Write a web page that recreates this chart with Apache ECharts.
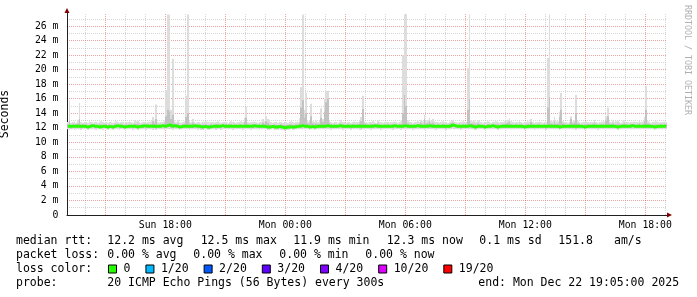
<!DOCTYPE html>
<html><head><meta charset="utf-8">
<script src="https://cdn.jsdelivr.net/npm/echarts@6/dist/echarts.min.js"></script>
<style>html,body{margin:0;padding:0;background:#fff}#c{width:697px;height:297px}</style>
</head><body><div id="c"></div>
<script>
// ---- time frame (hours since Sun 00:00) ----
const START_H = 13 + 5 / 60;   // Sun 13:05
const END_H = 43 + 5 / 60;     // Mon 19:05
const STEP_H = 5 / 60;         // 300 s step
const Y_MAX = 27.8;            // ms

// ---- tick labels ----
const xLabelHours = [18, 24, 30, 36, 42];
const xLabels = ['Sun 18:00', 'Mon 00:00', 'Mon 06:00', 'Mon 12:00', 'Mon 18:00'];

// ---- series values (ms), one value per 5-minute step, 360 steps ----
const medianMs = [
12.2,12.2,12.1,12.2,12.2,12.3,12.2,12.2,12.1,12.2,12.2,12.2,12.1,12.2,12.2,12.3,12.2,12.2,12.2,12.1,12.2,12.2,12.2,12.2,
12.1,12.2,12.2,12.1,12.2,12.2,12.3,12.2,12.2,12.2,12.1,12.2,12.2,12.2,12.3,12.2,12.2,12.2,12.1,12.2,12.2,12.2,12.3,12.2,
12.2,12.2,12.3,12.2,12.2,12.1,12.2,12.2,12.2,12.3,12.2,12.2,12.3,12.4,12.2,12.2,12.3,12.2,12.2,12.1,12.2,12.2,12.2,12.3,
12.2,12.2,12.2,12.2,12.3,12.2,12.2,12.2,12.1,12.1,12.2,12.2,12.1,12.1,12.2,12.2,12.2,12.1,12.2,12.2,12.2,12.3,12.2,12.2,
12.2,12.2,12.3,12.2,12.2,12.2,12.2,12.2,12.3,12.2,12.2,12.2,12.2,12.2,12.2,12.2,12.3,12.2,12.2,12.2,12.2,12.2,12.2,12.2,
12.1,12.1,12.2,12.2,12.1,12.1,12.1,12.2,12.1,12.1,12.0,12.1,12.1,12.1,12.2,12.1,12.1,12.2,12.2,12.2,12.2,12.3,12.2,12.2,
12.2,12.1,12.2,12.2,12.1,12.2,12.2,12.2,12.2,12.2,12.2,12.2,12.3,12.2,12.2,12.2,12.2,12.2,12.2,12.3,12.2,12.2,12.2,12.2,
12.2,12.2,12.1,12.2,12.2,12.2,12.2,12.2,12.1,12.2,12.2,12.2,12.2,12.2,12.2,12.2,12.3,12.2,12.2,12.2,12.2,12.2,12.2,12.2,
12.2,12.2,12.2,12.2,12.3,12.2,12.2,12.2,12.2,12.2,12.3,12.3,12.2,12.2,12.2,12.2,12.2,12.2,12.3,12.2,12.2,12.2,12.2,12.2,
12.2,12.3,12.2,12.2,12.2,12.2,12.2,12.2,12.2,12.2,12.2,12.1,12.2,12.2,12.3,12.4,12.3,12.2,12.2,12.2,12.1,12.2,12.2,12.2,
12.2,12.3,12.2,12.2,12.1,12.1,12.2,12.2,12.2,12.2,12.1,12.2,12.2,12.2,12.2,12.3,12.2,12.2,12.1,12.2,12.2,12.2,12.2,12.2,
12.2,12.2,12.2,12.2,12.2,12.3,12.2,12.2,12.2,12.2,12.1,12.2,12.2,12.2,12.2,12.2,12.2,12.2,12.2,12.2,12.2,12.2,12.2,12.1,
12.2,12.2,12.2,12.2,12.2,12.2,12.2,12.1,12.2,12.2,12.2,12.2,12.2,12.2,12.2,12.2,12.2,12.1,12.2,12.2,12.2,12.2,12.1,12.2,
12.2,12.2,12.2,12.2,12.2,12.2,12.2,12.2,12.2,12.2,12.2,12.2,12.2,12.2,12.2,12.2,12.2,12.2,12.1,12.2,12.2,12.2,12.2,12.2,
12.2,12.2,12.2,12.3,12.2,12.2,12.2,12.2,12.3,12.2,12.2,12.2,12.2,12.2,12.2,12.2,12.1,12.2,12.2,12.2,12.2,12.2,12.2,12.2
];
const minMs = [
11.8,11.7,11.8,11.8,11.7,11.8,11.8,11.8,11.7,11.8,11.8,11.8,11.7,11.8,11.8,11.8,11.8,11.7,11.8,11.8,11.8,11.7,11.8,11.8,
11.7,11.8,11.8,11.7,11.8,11.8,11.8,11.7,11.8,11.8,11.7,11.8,11.8,11.8,11.8,11.7,11.8,11.8,11.7,11.8,11.8,11.8,11.8,11.7,
11.8,11.8,11.8,11.7,11.8,11.7,11.8,11.8,11.8,11.8,11.7,11.8,11.8,11.9,11.8,11.7,11.8,11.8,11.8,11.7,11.8,11.8,11.8,11.8,
11.8,11.7,11.8,11.8,11.8,11.8,11.7,11.8,11.7,11.7,11.8,11.8,11.7,11.7,11.8,11.8,11.8,11.7,11.8,11.8,11.7,11.8,11.8,11.8,
11.8,11.8,11.8,11.7,11.8,11.8,11.8,11.8,11.8,11.7,11.8,11.8,11.8,11.8,11.7,11.8,11.8,11.8,11.8,11.7,11.8,11.8,11.8,11.8,
11.7,11.7,11.8,11.8,11.7,11.7,11.7,11.8,11.7,11.7,11.6,11.7,11.7,11.7,11.8,11.7,11.7,11.8,11.8,11.8,11.8,11.8,11.8,11.8,
11.8,11.7,11.8,11.8,11.7,11.8,11.8,11.8,11.8,11.8,11.8,11.8,11.8,11.8,11.7,11.8,11.8,11.8,11.8,11.8,11.8,11.7,11.8,11.8,
11.8,11.8,11.7,11.8,11.8,11.8,11.8,11.7,11.7,11.8,11.8,11.8,11.8,11.8,11.7,11.8,11.8,11.8,11.8,11.8,11.7,11.8,11.8,11.8,
11.8,11.8,11.8,11.7,11.8,11.8,11.8,11.8,11.7,11.8,11.8,11.8,11.8,11.8,11.8,11.7,11.8,11.8,11.8,11.8,11.8,11.8,11.7,11.8,
11.8,11.8,11.8,11.8,11.8,11.7,11.8,11.8,11.8,11.8,11.8,11.7,11.8,11.8,11.8,11.9,11.8,11.8,11.8,11.8,11.7,11.8,11.8,11.8,
11.8,11.8,11.8,11.8,11.7,11.7,11.8,11.8,11.8,11.8,11.7,11.8,11.8,11.8,11.8,11.8,11.8,11.8,11.7,11.8,11.8,11.8,11.8,11.8,
11.8,11.8,11.8,11.8,11.8,11.8,11.8,11.8,11.8,11.8,11.7,11.8,11.8,11.8,11.8,11.8,11.7,11.8,11.8,11.8,11.8,11.8,11.8,11.7,
11.8,11.8,11.8,11.8,11.8,11.8,11.8,11.7,11.8,11.8,11.8,11.8,11.8,11.8,11.8,11.8,11.8,11.7,11.8,11.8,11.8,11.8,11.7,11.8,
11.8,11.8,11.8,11.8,11.8,11.8,11.7,11.8,11.8,11.8,11.8,11.8,11.8,11.8,11.8,11.8,11.8,11.8,11.7,11.8,11.8,11.8,11.8,11.8,
11.8,11.8,11.8,11.8,11.8,11.8,11.8,11.8,11.8,11.8,11.8,11.8,11.8,11.8,11.8,11.8,11.7,11.8,11.8,11.8,11.8,11.8,11.8,11.8
];
const loMs = [
12.0,12.0,11.9,12.0,12.0,12.1,12.0,12.0,11.9,12.0,12.0,12.0,11.9,12.0,12.0,12.1,12.0,12.0,12.0,11.9,12.0,12.0,12.0,12.0,
11.9,12.0,12.0,11.9,12.0,12.0,12.1,12.0,12.0,12.0,11.9,12.0,12.0,12.0,12.1,12.0,12.0,12.0,11.9,12.0,12.0,12.0,12.1,12.0,
12.0,12.0,12.1,12.0,12.0,11.9,12.0,12.0,12.0,12.1,12.0,12.0,12.1,12.2,12.0,12.0,12.1,12.0,12.0,11.9,12.0,12.0,12.0,12.1,
12.0,12.0,12.0,12.0,12.1,12.0,12.0,12.0,11.9,11.9,12.0,12.0,11.9,11.9,12.0,12.0,12.0,11.9,12.0,12.0,12.0,12.1,12.0,12.0,
12.0,12.0,12.1,12.0,12.0,12.0,12.0,12.0,12.1,12.0,12.0,12.0,12.0,12.0,12.0,12.0,12.1,12.0,12.0,12.0,12.0,12.0,12.0,12.0,
11.9,11.9,12.0,12.0,11.9,11.9,11.9,12.0,11.9,11.9,11.8,11.9,11.9,11.9,12.0,11.9,11.9,12.0,12.0,12.0,12.0,12.1,12.0,12.0,
12.0,11.9,12.0,12.0,11.9,12.0,12.0,12.0,12.0,12.0,12.0,12.0,12.1,12.0,12.0,12.0,12.0,12.0,12.0,12.1,12.0,12.0,12.0,12.0,
12.0,12.0,11.9,12.0,12.0,12.0,12.0,12.0,11.9,12.0,12.0,12.0,12.0,12.0,12.0,12.0,12.1,12.0,12.0,12.0,12.0,12.0,12.0,12.0,
12.0,12.0,12.0,12.0,12.1,12.0,12.0,12.0,12.0,12.0,12.1,12.1,12.0,12.0,12.0,12.0,12.0,12.0,12.1,12.0,12.0,12.0,12.0,12.0,
12.0,12.1,12.0,12.0,12.0,12.0,12.0,12.0,12.0,12.0,12.0,11.9,12.0,12.0,12.1,12.2,12.1,12.0,12.0,12.0,11.9,12.0,12.0,12.0,
12.0,12.1,12.0,12.0,11.9,11.9,12.0,12.0,12.0,12.0,11.9,12.0,12.0,12.0,12.0,12.1,12.0,12.0,11.9,12.0,12.0,12.0,12.0,12.0,
12.0,12.0,12.0,12.0,12.0,12.1,12.0,12.0,12.0,12.0,11.9,12.0,12.0,12.0,12.0,12.0,12.0,12.0,12.0,12.0,12.0,12.0,12.0,11.9,
12.0,12.0,12.0,12.0,12.0,12.0,12.0,11.9,12.0,12.0,12.0,12.0,12.0,12.0,12.0,12.0,12.0,11.9,12.0,12.0,12.0,12.0,11.9,12.0,
12.0,12.0,12.0,12.0,12.0,12.0,12.0,12.0,12.0,12.0,12.0,12.0,12.0,12.0,12.0,12.0,12.0,12.0,11.9,12.0,12.0,12.0,12.0,12.0,
12.0,12.0,12.0,12.1,12.0,12.0,12.0,12.0,12.1,12.0,12.0,12.0,12.0,12.0,12.0,12.0,11.9,12.0,12.0,12.0,12.0,12.0,12.0,12.0
];
const hiMs = [
12.5,13.0,12.4,12.5,12.4,12.5,12.6,13.2,12.4,12.5,12.4,12.5,12.4,12.4,12.5,12.4,12.5,12.4,12.4,12.5,12.5,12.4,12.4,12.5,
12.4,12.5,12.4,12.4,12.5,12.5,12.4,12.4,12.5,12.4,12.4,12.5,12.4,12.5,12.4,12.4,12.6,12.5,12.6,12.4,12.4,12.5,12.4,12.4,
12.5,12.4,12.5,12.9,12.6,13.2,12.4,12.5,12.4,12.4,12.6,13.6,14.5,14.2,13.2,13.8,12.6,12.5,12.6,12.4,12.4,12.5,12.5,13.5,
14.0,12.6,12.5,12.7,12.4,12.4,12.5,12.4,12.4,12.5,12.4,12.5,12.4,12.4,12.5,12.4,12.4,12.5,12.5,12.4,12.4,12.5,12.4,12.5,
12.4,12.5,12.5,12.4,12.5,12.4,12.4,12.5,12.5,12.4,12.8,13.4,12.5,12.4,12.4,12.5,12.5,12.4,12.4,12.5,12.4,12.7,12.5,12.9,
12.7,12.5,12.4,12.4,12.5,12.4,12.4,12.4,12.5,12.4,12.4,12.4,12.4,12.5,12.5,12.4,12.4,12.5,12.4,12.7,14.8,15.8,13.4,14.0,
12.6,12.7,13.6,12.6,12.5,12.6,12.5,12.5,13.4,12.8,14.2,15.5,16.0,12.7,12.5,12.4,12.5,12.4,12.4,12.5,12.6,12.5,12.4,12.4,
12.5,12.4,12.4,12.5,12.5,12.4,12.5,12.6,12.9,14.6,12.6,12.5,12.4,12.4,12.5,12.5,12.4,12.4,12.6,12.5,12.4,12.4,12.5,12.4,
12.5,12.4,12.4,12.5,12.5,12.4,12.4,12.5,12.5,14.0,16.5,15.0,12.6,12.5,12.4,12.4,12.5,12.4,12.5,12.5,12.7,12.5,13.2,12.6,
12.7,12.9,12.6,12.7,12.5,12.4,12.5,12.4,12.4,12.5,12.5,12.4,12.4,12.5,12.6,12.7,12.5,12.4,12.4,12.5,12.4,12.5,12.4,12.5,
14.5,16.0,12.6,12.6,12.6,12.5,12.6,12.5,12.4,12.4,12.5,12.4,12.5,12.4,12.4,12.5,12.4,12.5,12.5,12.4,12.4,12.5,12.5,12.6,
12.7,12.9,12.5,12.4,12.4,12.5,12.4,12.5,12.5,12.4,12.4,12.5,12.5,12.4,12.8,12.5,12.4,12.4,12.5,12.5,12.4,12.4,12.5,12.4,
14.8,16.2,12.6,12.5,12.9,12.5,12.6,13.5,14.5,12.6,12.5,12.4,12.4,12.5,13.2,12.6,12.7,14.0,12.6,12.5,12.4,12.4,12.5,12.5,
12.5,12.4,12.4,12.5,12.7,12.5,12.4,12.4,12.5,12.5,12.4,13.0,13.6,12.6,12.5,12.6,12.4,12.5,12.6,12.5,12.4,12.5,12.6,12.5,
12.4,12.4,12.5,12.5,12.5,12.4,12.5,12.6,12.4,12.5,12.9,14.5,12.6,12.5,12.4,12.4,12.5,12.5,12.4,12.4,12.5,12.4,12.5,12.5
];
const maxMs = [
12.8,15.8,12.7,12.8,12.9,12.7,13.1,15.4,12.8,12.7,12.8,12.8,12.7,12.9,12.8,12.7,12.8,12.8,12.7,12.8,12.9,12.8,12.7,12.8,
12.7,12.8,12.8,12.7,12.8,12.9,12.8,12.7,12.8,12.8,12.7,12.8,12.8,12.9,12.8,12.7,13.0,12.9,13.0,12.8,12.7,12.8,12.8,12.7,
12.8,12.8,12.9,13.5,13.0,15.2,12.8,12.7,12.8,12.8,13.0,17.2,27.6,27.6,14.5,21.5,13.0,12.8,13.1,12.8,12.7,12.8,12.9,16.4,
27.6,12.9,12.8,13.2,12.8,12.7,12.8,12.8,12.7,12.8,12.8,12.9,12.8,12.7,12.8,12.8,12.7,12.8,12.9,12.8,12.7,12.8,12.8,12.8,
12.7,12.8,12.9,12.8,12.8,12.7,12.8,12.8,12.9,12.8,13.4,14.9,12.8,12.7,12.8,12.8,12.9,12.8,12.7,12.8,12.8,13.2,12.9,13.6,
13.2,13.0,12.8,12.7,12.8,12.8,12.7,12.8,12.8,12.7,12.8,12.8,12.7,12.8,12.9,12.8,12.7,12.8,12.8,13.3,17.6,27.6,14.5,16.8,
12.9,13.0,15.3,12.9,12.8,13.0,12.8,12.9,14.7,13.2,16.0,17.1,17.1,13.0,12.8,12.7,12.8,12.8,12.7,12.8,13.1,12.8,12.8,12.7,
12.8,12.8,12.7,12.8,12.9,12.8,12.8,13.0,13.5,16.4,12.9,12.8,12.7,12.8,12.8,12.9,12.8,12.7,13.0,12.8,12.8,12.7,12.8,12.8,
12.8,12.7,12.8,12.8,12.9,12.8,12.7,12.8,12.9,22.0,27.6,27.6,13.0,12.8,12.8,12.7,12.8,12.8,12.9,12.8,13.1,12.9,13.8,13.0,
13.1,13.4,13.0,13.2,12.9,12.8,12.8,12.7,12.8,12.9,12.8,12.8,12.7,12.8,12.9,13.1,12.8,12.8,12.7,12.8,12.8,12.9,12.8,12.8,
20.2,27.6,13.0,12.9,13.0,12.8,13.0,12.9,12.8,12.7,12.8,12.8,12.9,12.8,12.7,12.8,12.8,12.9,12.8,12.7,12.8,12.8,12.9,13.0,
13.1,13.3,12.9,12.8,12.7,12.8,12.8,12.9,12.8,12.7,12.8,12.8,12.9,12.8,13.2,12.8,12.7,12.8,12.8,12.9,12.8,12.7,12.8,12.8,
21.6,27.6,13.0,12.9,13.5,12.9,12.9,14.2,16.8,12.9,12.8,12.8,12.7,12.8,13.6,12.9,13.0,16.5,12.9,12.8,12.7,12.8,12.8,12.9,
12.8,12.7,12.8,12.8,13.1,12.8,12.7,12.8,12.8,12.9,12.8,13.6,14.8,12.9,12.8,13.0,12.8,12.9,13.0,12.8,12.7,12.9,13.0,12.8,
12.8,12.7,12.8,12.8,12.9,12.8,12.8,13.0,12.8,12.9,13.5,17.8,12.9,12.8,12.7,12.8,12.8,12.9,12.8,12.7,12.8,12.8,12.9,12.8
];

// ---- legend texts ----
const lossColorNames = ['0', '1/20', '2/20', '3/20', '4/20', '10/20', '19/20'];
const lossColors = ['#26ff00', '#00b8ff', '#0059ff', '#5e00ff', '#7e00ff', '#dd00ff', '#ff0000'];
const rttStats = ['12.2 ms avg', '12.5 ms max', '11.9 ms min', '12.3 ms now', '0.1 ms sd', '151.8', 'am/s'];
const lossStats = ['0.00 % avg', '0.00 % max', '0.00 % min', '0.00 % now'];
const probeText = '20 ICMP Echo Pings (56 Bytes) every 300s';
const endText = 'end: Mon Dec 22 19:05:00 2025';

// ---- styles ----
const MONO = '"DejaVu Sans Mono", monospace';
const GRID_C = 'rgba(140,140,140,0.36)';
const MGRID_C = 'rgba(210,50,50,0.45)';
const AXIS_C = '#202020';
const ARROW_C = '#800000';
const SMOKE_OUTER = '#dddddd';
const SMOKE_INNER = '#c2c2c2';

const smokeData = maxMs.map((v, i) => [START_H + (i + 1) * STEP_H, minMs[i], loMs[i], hiMs[i], v]);
const medianData = medianMs.map((v, i) => [START_H + (i + 0.5) * STEP_H, v]);

const vGrid = [];
for (let h = Math.ceil(START_H); h <= Math.floor(END_H); h++) {
  vGrid.push({ xAxis: h, lineStyle: { color: h % 3 === 0 ? MGRID_C : GRID_C, type: 'dotted', width: 1 } });
}

function txt(text, x, y, extra) {
  return Object.assign({ type: 'text', x: x, y: y, silent: true,
    style: { text: text, fill: '#000', fontFamily: MONO, fontSize: 11.5, align: 'left', verticalAlign: 'middle' } }, extra || {});
}
const L1 = 240.8, L2 = 254.8, L3 = 268.8, L4 = 282.8;
const rttX = [107.3, 200.7, 293.3, 386.7, 479.3, 558.3, 614];
const lossX = [107.3, 193.3, 279.3, 365.3];
const graphics = [txt('median rtt:', 16, L1), txt('packet loss:', 16, L2), txt('loss color:', 16, L3),
  txt('probe:', 16, L4), txt(probeText, 107.3, L4), txt(endText, 478.3, L4)];
rttStats.forEach((s, i) => graphics.push(txt(s, rttX[i], L1)));
lossStats.forEach((s, i) => graphics.push(txt(s, lossX[i], L2)));
graphics.push({ type: 'text', x: 687.5, y: 60, rotation: -Math.PI / 2, silent: true,
  style: { text: 'RRDTOOL / TOBI OETIKER', fill: '#b0b0b0', fontFamily: MONO, fontSize: 8.3, align: 'center', verticalAlign: 'middle' } });

const chart = echarts.init(document.getElementById('c'), null, { renderer: 'canvas' });
const dummySeries = lossColorNames.slice(1).map((n, i) => ({
  name: n, type: 'line', data: [], itemStyle: { color: lossColors[i + 1] }, lineStyle: { color: lossColors[i + 1] }
}));

chart.setOption({
  animation: false,
  backgroundColor: '#ffffff',
  grid: { left: 67, right: 30, top: 13, bottom: 82, containLabel: false, outerBoundsMode: 'none' },
  xAxis: [{
    type: 'value', min: START_H, max: END_H, position: 'bottom',
    axisLine: { onZero: false, lineStyle: { color: AXIS_C, width: 1 } },
    axisTick: { show: false },
    splitLine: { show: false },
    axisLabel: {
      customValues: xLabelHours, margin: 5, color: '#000', fontFamily: MONO, fontSize: 9.8,
      formatter: function (v) { const k = xLabelHours.indexOf(Math.round(v)); return k >= 0 && Math.abs(v - Math.round(v)) < 1e-6 ? xLabels[k] : ''; }
    }
  }, {
    type: 'value', min: START_H, max: END_H, position: 'top', offset: -202,
    axisLine: { onZero: false, symbol: ['none', 'triangle'], symbolSize: [5, 5], symbolOffset: [0, 2.5], lineStyle: { color: ARROW_C, opacity: 0 } },
    axisTick: { show: false }, axisLabel: { show: false }, splitLine: { show: false }
  }],
  yAxis: [{
    type: 'value', min: 0, max: Y_MAX, interval: 1, position: 'left',
    name: 'Seconds', nameLocation: 'middle', nameGap: 56,
    nameTextStyle: { color: '#000', fontFamily: MONO, fontSize: 11.5 },
    axisLine: { show: true, onZero: false, lineStyle: { color: AXIS_C, width: 1 } },
    axisTick: { show: false },
    axisLabel: {
      margin: 8.5, color: '#000', fontFamily: MONO, fontSize: 9.8, showMaxLabel: false,
      formatter: function (v) { const r = Math.round(v); if (Math.abs(v - r) > 1e-6 || r % 2 !== 0) return ''; return r === 0 ? '0' : r + ' m'; }
    },
    splitLine: { show: true, showMaxLine: false, lineStyle: { color: [MGRID_C, GRID_C], type: 'dotted', width: 1 } }
  }, {
    type: 'value', min: 0, max: Y_MAX, interval: 1, position: 'right', offset: -600,
    axisLine: { show: true, onZero: false, symbol: ['none', 'triangle'], symbolSize: [5, 5], symbolOffset: [0, 2.5], lineStyle: { color: ARROW_C, opacity: 0 } },
    axisTick: { show: false }, axisLabel: { show: false }, splitLine: { show: false }
  }],
  legend: {
    data: lossColorNames, left: 108, top: 263, padding: 0, icon: 'rect',
    itemWidth: 8, itemHeight: 8, itemGap: 15, selectedMode: false,
    itemStyle: { borderColor: '#000', borderWidth: 1 },
    textStyle: { color: '#000', fontFamily: MONO, fontSize: 11.5, padding: [0, 0, 0, 2] }
  },
  graphic: graphics,
  series: [{
    name: 'smoke', type: 'custom', z: 6, clip: true, silent: true,
    data: smokeData,
    encode: { x: 0, y: [1, 2, 3, 4] },
    renderItem: function (params, api) {
      const t = api.value(0);
      const xa = Math.round(api.coord([t - STEP_H, 0])[0]);
      const xb = Math.round(api.coord([t, 0])[0]);
      const yMin = api.coord([t, api.value(1)])[1];
      const yLo = api.coord([t, api.value(2)])[1];
      const yHi = api.coord([t, api.value(3)])[1];
      const yMax = api.coord([t, api.value(4)])[1];
      return { type: 'group', children: [
        { type: 'rect', shape: { x: xa, y: yMax, width: xb - xa, height: yMin - yMax }, style: { fill: SMOKE_OUTER } },
        { type: 'rect', shape: { x: xa, y: yHi, width: xb - xa, height: yLo - yHi }, style: { fill: SMOKE_INNER } }
      ] };
    }
  }, {
    name: '0', type: 'line', z: 7, data: medianData, step: 'middle', symbol: 'none', silent: true,
    itemStyle: { color: lossColors[0] }, lineStyle: { color: lossColors[0], width: 3 },
    markLine: { silent: true, symbol: ['none', 'none'], label: { show: false }, data: vGrid, animation: false }
  }].concat(dummySeries)
});
</script></body></html>
